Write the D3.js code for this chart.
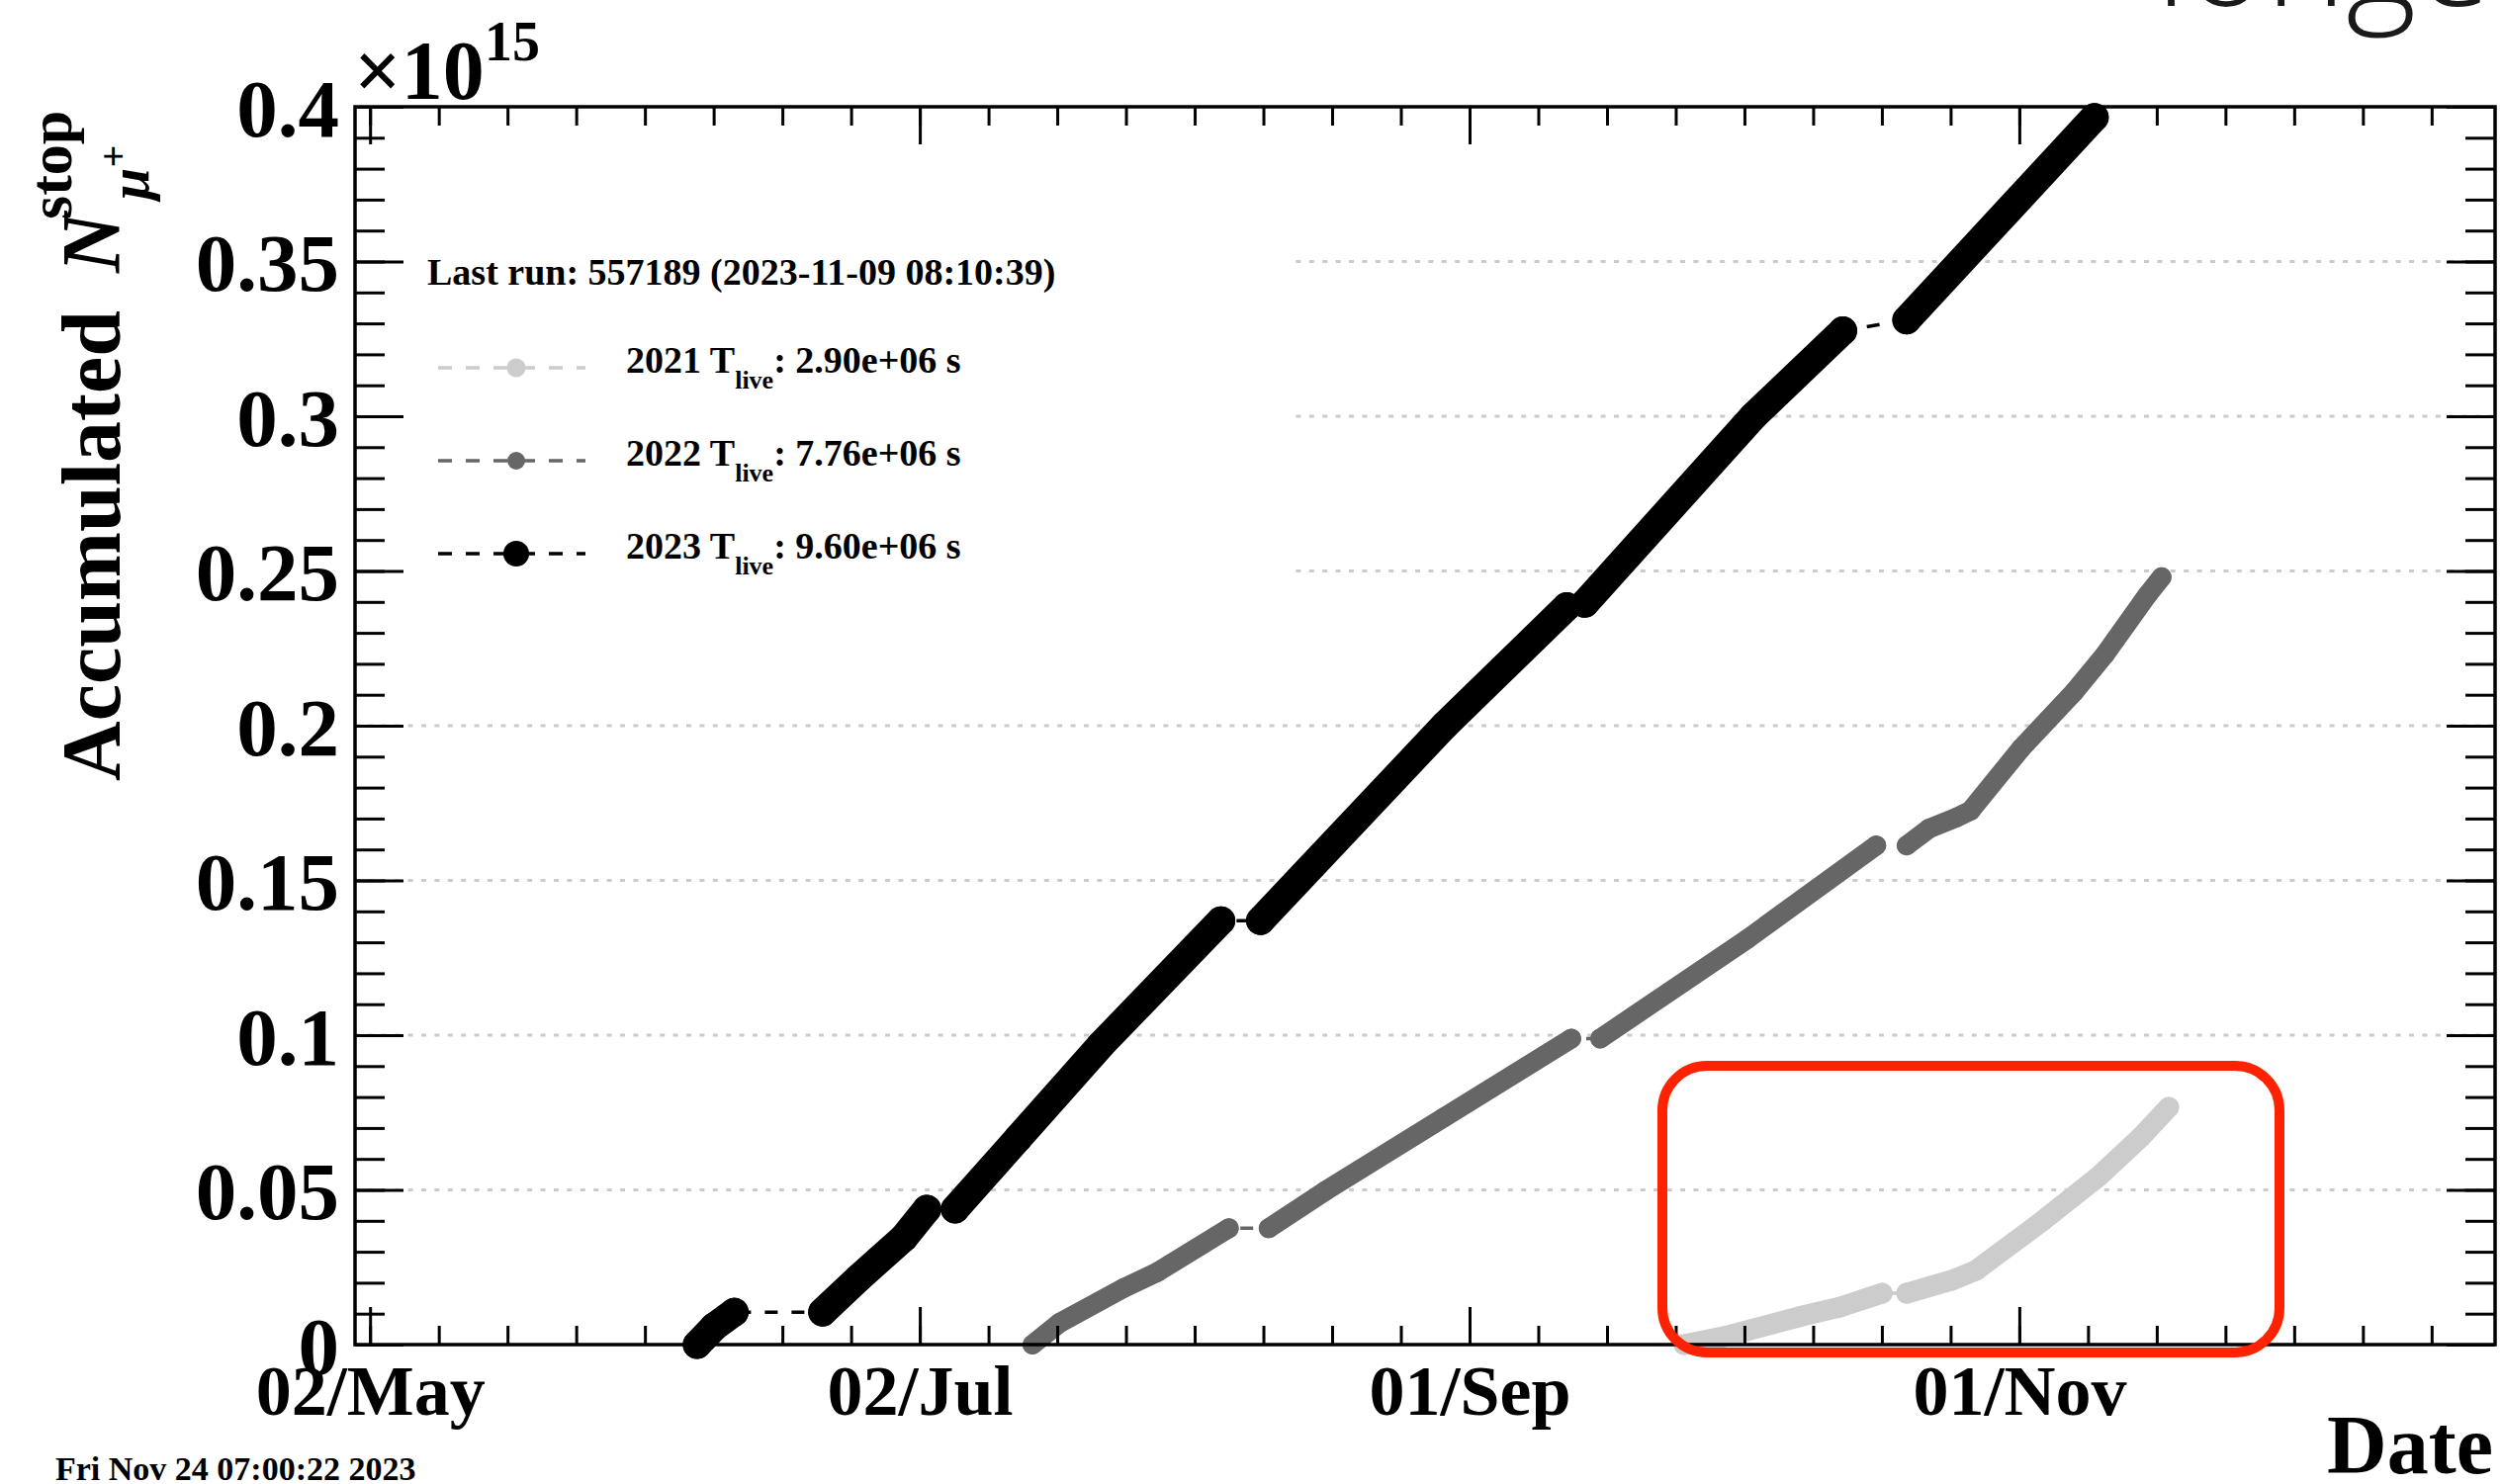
<!DOCTYPE html>
<html>
<head>
<meta charset="utf-8">
<script src="https://cdn.jsdelivr.net/npm/d3@7"></script>
<style>
  body { margin: 0; background: #fff; }
  svg text { font-family: 'Liberation Serif', 'Times New Roman', serif; font-weight: bold; }
</style>
</head>
<body>
<script>
// accumulated stopped mu+ per data taking year, values in units of 1e15,
// all years put on the same calendar (dates)
const years = ['2021', '2022', '2023'];
const liveTimes = ['2.90e+06', '7.76e+06', '9.60e+06'];
const lastRun = 'Last run: 557189 (2023-11-09 08:10:39)';
const printed = 'Fri Nov 24 07:00:22 2023';

// every inner list is one block of runs, blocks are joined by the thin dashed line
const runs2021 = [
  [['2023-09-24T19', 0.0], ['2023-09-29T07', 0.0026], ['2023-10-07T14', 0.0090], ['2023-10-12T02', 0.0121], ['2023-10-16T19', 0.0166]],
  [['2023-10-19T12', 0.0166], ['2023-10-24T12', 0.0208], ['2023-10-27T05', 0.0240], ['2023-11-03T14', 0.0400],
   ['2023-11-09T19', 0.0543], ['2023-11-14T12', 0.0671], ['2023-11-17T14', 0.0767]]
];
const runs2022 = [
  [['2023-07-14T12', 0.0], ['2023-07-17T12', 0.0070], ['2023-07-24T14', 0.0182], ['2023-07-28T07', 0.0233], ['2023-08-05T07', 0.0376]],
  [['2023-08-09T17', 0.0376], ['2023-08-15T22', 0.0495], ['2023-08-29T05', 0.0735], ['2023-09-12T07', 0.0989]],
  [['2023-09-15T12', 0.0989], ['2023-10-01T19', 0.1310], ['2023-10-16T03', 0.1613]],
  [['2023-10-19T12', 0.1613], ['2023-10-22T00', 0.1668], ['2023-10-25T00', 0.1703], ['2023-10-26T14', 0.1725],
   ['2023-11-01T05', 0.1927], ['2023-11-07T02', 0.2109], ['2023-11-10T12', 0.2230], ['2023-11-15T05', 0.2422], ['2023-11-16T19', 0.2480]]
];
const runs2023 = [
  [['2023-06-07T07', 0.0], ['2023-06-09T05', 0.0058], ['2023-06-11T10', 0.0105]],
  [['2023-06-21T05', 0.0105], ['2023-06-25T05', 0.0215], ['2023-06-30T05', 0.0345], ['2023-07-02T19', 0.0438]],
  [['2023-07-05T22', 0.0438], ['2023-07-12T22', 0.0667], ['2023-07-22T02', 0.0968], ['2023-08-04T10', 0.1370]],
  [['2023-08-08T19', 0.1370], ['2023-08-29T05', 0.2000], ['2023-09-11T19', 0.2385]],
  [['2023-09-13T19', 0.2395], ['2023-10-02T12', 0.3000], ['2023-10-12T10', 0.3276]],
  [['2023-10-19T12', 0.3311], ['2023-11-09T08', 0.3966]]
];

const xRange = ['2023-04-30T08', '2023-12-23T19'];
const xTickDates = ['2023-05-02', '2023-07-02', '2023-09-01', '2023-11-01'];
const xTickLabels = ['02/May', '02/Jul', '01/Sep', '01/Nov'];
const yTicks = [0, 0.05, 0.1, 0.15, 0.2, 0.25, 0.3, 0.35, 0.4];
const yTickLabels = ['0', '0.05', '0.1', '0.15', '0.2', '0.25', '0.3', '0.35', '0.4'];

const WIDTH = 2530;
const HEIGHT = 1501;
const FRAME = {left: 359, right: 2523, top: 108, bottom: 1360};

const parseHour = d3.utcParse('%Y-%m-%dT%H');
const parseDay = d3.utcParse('%Y-%m-%d');
const when = s => s.length > 10 ? parseHour(s) : parseDay(s);

const SVG = d3.select('body')
              .append('svg')
              .attr('width', WIDTH)
              .attr('height', HEIGHT)
              .style('background-color', '#fff');

const xScale = d3.scaleUtc()
                 .domain(xRange.map(when))
                 .range([FRAME.left, FRAME.right]);
const yScale = d3.scaleLinear()
                 .domain([0, 0.4])
                 .range([FRAME.bottom, FRAME.top]);

// dotted grid
SVG.append('g')
   .selectAll('line')
   .data(yTicks.filter(v => v > 0 && v < 0.4))
   .enter()
   .append('line')
   .attr('x1', FRAME.left)
   .attr('x2', FRAME.right)
   .attr('y1', d => yScale(d))
   .attr('y2', d => yScale(d))
   .attr('stroke', '#cbcbcb')
   .attr('stroke-width', 3)
   .attr('stroke-dasharray', '5,8.4');

// legend background hides the grid behind it
SVG.append('rect')
   .attr('x', FRAME.left + 3)
   .attr('y', FRAME.top + 3)
   .attr('width', 1307 - FRAME.left - 3)
   .attr('height', 530)
   .attr('fill', '#fff');

const series = [
  {runs: runs2021, color: '#cccccc', r: 10.5},
  {runs: runs2022, color: '#666666', r: 10},
  {runs: runs2023, color: '#000000', r: 14.5}
];
const legendR = [9.5, 9, 13];

const line = d3.line()
               .x(d => xScale(when(d[0])))
               .y(d => yScale(d[1]));

series.forEach(s => {
  const g = SVG.append('g');
  // thin dashed line through all runs
  g.append('path')
   .attr('d', line(s.runs.flat()))
   .attr('fill', 'none')
   .attr('stroke', s.color)
   .attr('stroke-width', 3.5)
   .attr('stroke-dasharray', '13,14');
  // dense markers look like a thick band
  g.selectAll('path.band')
   .data(s.runs)
   .enter()
   .append('path')
   .attr('class', 'band')
   .attr('d', line)
   .attr('fill', 'none')
   .attr('stroke', s.color)
   .attr('stroke-width', s.r * 2)
   .attr('stroke-linecap', 'round')
   .attr('stroke-linejoin', 'round');
  g.selectAll('circle')
   .data(s.runs.flat())
   .enter()
   .append('circle')
   .attr('cx', d => xScale(when(d[0])))
   .attr('cy', d => yScale(d[1]))
   .attr('r', s.r)
   .attr('fill', s.color);
});

// axes, ticks on all four sides pointing inside
const xMajor = xTickDates.map(when);
const xMinor = d3.range(0, 40)
                 .map(k => d3.utcHour.offset(xMajor[0], 183 * k))
                 .filter(d => d <= xScale.domain()[1]);
const yMinor = d3.range(0, 41).map(i => i / 100);

function styleAxis(g) {
  g.select('.domain').remove();
  g.selectAll('line').attr('stroke', '#000').attr('stroke-width', 3);
  g.attr('font-family', null).attr('font-size', null);
}

SVG.append('g')
   .attr('transform', 'translate(0,' + FRAME.bottom + ')')
   .call(d3.axisBottom(xScale).tickValues(xMinor).tickSizeInner(-19).tickSizeOuter(0).tickFormat(''))
   .call(styleAxis);
const xAxis = SVG.append('g')
   .attr('transform', 'translate(0,' + FRAME.bottom + ')')
   .call(d3.axisBottom(xScale).tickValues(xMajor).tickSizeInner(-38).tickSizeOuter(0)
           .tickPadding(20).tickFormat((d, i) => xTickLabels[i]))
   .call(styleAxis);
xAxis.selectAll('text').attr('font-size', 72).attr('fill', '#000');

SVG.append('g')
   .attr('transform', 'translate(0,' + FRAME.top + ')')
   .call(d3.axisTop(xScale).tickValues(xMinor).tickSizeInner(-19).tickSizeOuter(0).tickFormat(''))
   .call(styleAxis);
SVG.append('g')
   .attr('transform', 'translate(0,' + FRAME.top + ')')
   .call(d3.axisTop(xScale).tickValues(xMajor).tickSizeInner(-38).tickSizeOuter(0).tickFormat(''))
   .call(styleAxis);

SVG.append('g')
   .attr('transform', 'translate(' + FRAME.left + ',0)')
   .call(d3.axisLeft(yScale).tickValues(yMinor).tickSizeInner(-30).tickSizeOuter(0).tickFormat(''))
   .call(styleAxis);
const yAxis = SVG.append('g')
   .attr('transform', 'translate(' + FRAME.left + ',0)')
   .call(d3.axisLeft(yScale).tickValues(yTicks).tickSizeInner(-49).tickSizeOuter(0)
           .tickPadding(16).tickFormat((d, i) => yTickLabels[i]))
   .call(styleAxis);
yAxis.selectAll('text').attr('font-size', 83).attr('dy', '0.35em').attr('fill', '#000');

SVG.append('g')
   .attr('transform', 'translate(' + FRAME.right + ',0)')
   .call(d3.axisRight(yScale).tickValues(yMinor).tickSizeInner(-30).tickSizeOuter(0).tickFormat(''))
   .call(styleAxis);
SVG.append('g')
   .attr('transform', 'translate(' + FRAME.right + ',0)')
   .call(d3.axisRight(yScale).tickValues(yTicks).tickSizeInner(-49).tickSizeOuter(0).tickFormat(''))
   .call(styleAxis);

SVG.append('rect')
   .attr('x', FRAME.left)
   .attr('y', FRAME.top)
   .attr('width', FRAME.right - FRAME.left)
   .attr('height', FRAME.bottom - FRAME.top)
   .attr('fill', 'none')
   .attr('stroke', '#000')
   .attr('stroke-width', 3.5);

// x10^15 exponent
const expo = SVG.append('text').attr('x', 358).attr('y', 100).attr('font-size', 84);
expo.append('tspan').text('\u00d710');
expo.append('tspan').attr('font-size', 56).attr('dy', -39).text('15');

// axis titles
SVG.append('text')
   .attr('x', 2521)
   .attr('y', 1490)
   .attr('text-anchor', 'end')
   .attr('font-size', 84)
   .text('Date');

const yTitle = SVG.append('g').attr('transform', 'translate(121,790) rotate(-90)');
yTitle.append('text').attr('font-size', 84).text('Accumulated');
yTitle.append('text').attr('x', 514).attr('font-size', 84).attr('font-style', 'italic').text('N');
yTitle.append('text').attr('x', 568).attr('y', -49).attr('font-size', 62).text('stop');
const mu = yTitle.append('text').attr('x', 588).attr('y', 29).attr('font-size', 58).attr('font-style', 'italic');
mu.append('tspan').text('\u03bc');
mu.append('tspan').attr('font-size', 40).attr('dy', -22).text('+');

// legend
SVG.append('text')
   .attr('x', 432)
   .attr('y', 288)
   .attr('font-size', 38)
   .text(lastRun);

const legendY = [372, 466, 560];
series.forEach((s, i) => {
  const g = SVG.append('g').attr('transform', 'translate(0,' + legendY[i] + ')');
  g.append('line')
   .attr('x1', 443)
   .attr('x2', 592)
   .attr('stroke', s.color)
   .attr('stroke-width', 3.5)
   .attr('stroke-dasharray', '14,14');
  g.append('circle')
   .attr('cx', 522)
   .attr('r', legendR[i])
   .attr('fill', s.color);
  const t = g.append('text').attr('x', 633).attr('y', 5).attr('font-size', 38);
  t.append('tspan').text(years[i] + ' T');
  t.append('tspan').attr('font-size', 26).attr('dy', 16).text('live');
  t.append('tspan').attr('dy', -16).text(': ' + liveTimes[i] + ' s');
});

SVG.append('text')
   .attr('x', 56)
   .attr('y', 1497)
   .attr('font-size', 34)
   .text(printed);

// slide annotation on top of the plot
SVG.append('rect')
   .attr('x', 1681)
   .attr('y', 1078)
   .attr('width', 624)
   .attr('height', 290)
   .attr('rx', 45)
   .attr('fill', 'none')
   .attr('stroke', '#ff2200')
   .attr('stroke-width', 10);

SVG.append('text')
   .attr('x', 2180)
   .attr('y', 6)
   .attr('font-size', 137)
   .style('font-family', "'Open Sans', sans-serif")
   .style('font-weight', 300)
   .attr('fill', '#1a1a1a')
   .text('longer');
</script>
</body>
</html>
